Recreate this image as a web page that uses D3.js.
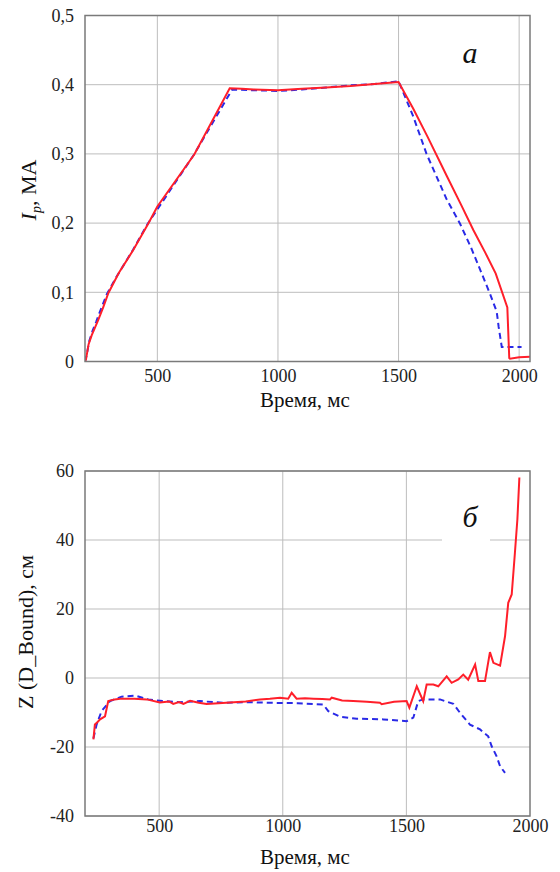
<!DOCTYPE html>
<html>
<head>
<meta charset="utf-8">
<script src="https://cdn.jsdelivr.net/npm/d3@7"></script>
<style>
  body { margin: 0; background: #fff; }
  svg { display: block; }
  svg text { font-family: "Liberation Serif", "Times New Roman", Times, "DejaVu Serif", serif !important; }
  .tick text { fill: #222; }
</style>
</head>
<body>
<svg id="chart" width="560" height="872"></svg>
<script>
// panel a: plasma current, MA
const ipRed = [[200,0],[204,0.003],[215,0.025],[228,0.038],[240,0.048],[255,0.06],[275,0.078],[297,0.099],
  [340,0.128],[400,0.161],[462,0.199],[500,0.224],[653,0.299],[800,0.395],[850,0.394],
  [900,0.393],[1000,0.392],[1100,0.394],[1200,0.396],[1300,0.398],[1400,0.401],[1500,0.404],[1560,0.366],
  [1620,0.325],[1700,0.268],[1760,0.226],[1810,0.19],[1860,0.157],[1903,0.127],[1951,0.078],[1959,0.005],
  [1962,0.004],[2000,0.006],[2045,0.007]];
const ipBlue = [[200,0],[206,0.008],[218,0.03],[232,0.045],[247,0.058],[262,0.072],[290,0.097],[330,0.122],
  [400,0.162],[460,0.199],[650,0.298],[810,0.393],[900,0.392],[1000,0.391],[1100,0.393],
  [1200,0.396],[1300,0.399],[1400,0.401],[1500,0.405],[1560,0.355],[1616,0.3],[1700,0.234],[1755,0.199],
  [1800,0.165],[1851,0.122],[1880,0.097],[1907,0.072],[1915,0.05],[1928,0.021],[1960,0.021],[2010,0.021]];

// panel b: Z (D_Bound), cm
const zRed = [[234,-17.8],[240,-13.5],[250,-12.8],[261,-12.0],[281,-11.1],[294,-6.7],[320,-6.2],[342,-6.0],
  [400,-6.0],[450,-6.2],[503,-7.1],[540,-6.8],[557,-7.5],[580,-7.0],[598,-7.5],[625,-6.6],[660,-7.2],[692,-7.5],
  [740,-7.3],[787,-7.1],[850,-6.8],[908,-6.2],[948,-6.0],[989,-5.7],[1022,-6.0],[1036,-4.3],[1056,-6.0],
  [1090,-5.9],[1124,-6.0],[1160,-6.1],[1191,-6.2],[1198,-5.7],[1240,-6.5],[1285,-6.7],[1340,-6.9],[1393,-7.2],
  [1400,-7.6],[1450,-6.9],[1501,-6.7],[1512,-8.6],[1542,-2.4],[1568,-6.7],[1582,-1.9],[1609,-1.9],[1629,-2.4],
  [1663,0.5],[1683,-1.4],[1710,-0.4],[1730,1.0],[1750,-0.5],[1778,3.9],[1791,-0.9],[1818,-0.9],[1838,7.5],
  [1852,4.4],[1879,3.6],[1899,12.1],[1912,21.8],[1926,24.2],[1939,36.3],[1949,46.0],[1957,58.1]];
const zBlue = [[234,-17.5],[247,-13.5],[267,-9.6],[301,-6.7],[348,-5.4],[402,-5.1],[456,-6.2],[514,-6.7],
  [584,-7.0],[665,-6.7],[759,-7.2],[854,-7.0],[962,-7.2],[1060,-7.3],[1164,-7.7],[1184,-9.6],[1231,-11.2],
  [1299,-11.8],[1407,-12.0],[1501,-12.5],[1528,-11.5],[1548,-6.7],[1568,-6.2],[1636,-6.2],[1690,-7.5],
  [1717,-10.1],[1757,-13.5],[1798,-14.9],[1831,-16.9],[1845,-19.8],[1865,-22.7],[1879,-25.6],[1899,-27.5]];

const timeTicks = [500, 1000, 1500, 2000];
const ipTicks = [0, 0.1, 0.2, 0.3, 0.4, 0.5];
const zTicks = [-40, -20, 0, 20, 40, 60];

const svg = d3.select("#chart");
const commaFmt = d => d === 0 ? "0" : d3.format(".1f")(d).replace(".", ",");

function drawPanel(opt){
  const x = d3.scaleLinear().domain(opt.xDomain).range([85, 530]);
  const y = d3.scaleLinear().domain(opt.yDomain).range([opt.bottom, opt.top]);
  const w = 445, h = opt.bottom - opt.top;
  const g = svg.append("g");

  // grid
  g.append("g").selectAll("line").data(opt.yTicks).join("line")
    .attr("x1", 85).attr("x2", 530)
    .attr("y1", d => y(d)).attr("y2", d => y(d))
    .attr("stroke", "#bdbdbd").attr("stroke-width", 1);
  g.append("g").selectAll("line").data(timeTicks.filter(d => x(d) < 529)).join("line")
    .attr("x1", d => x(d)).attr("x2", d => x(d))
    .attr("y1", opt.top).attr("y2", opt.bottom)
    .attr("stroke", "#bdbdbd").attr("stroke-width", 1);

  // tick labels
  const xAxis = d3.axisBottom(x).tickValues(timeTicks).tickSize(0).tickPadding(opt.xPad).tickFormat(d => String(d));
  g.append("g").attr("transform", `translate(0,${opt.bottom})`).call(xAxis)
    .call(a => a.select(".domain").remove())
    .selectAll("text").style("font-size", "18px");
  const yAxis = d3.axisLeft(y).tickValues(opt.yTicks).tickSize(0).tickPadding(11).tickFormat(opt.yFormat);
  g.append("g").attr("transform", "translate(85,0)").call(yAxis)
    .call(a => a.select(".domain").remove())
    .selectAll("text").style("font-size", "18px");

  // panel letter on a white patch
  if (opt.letterBox) {
    g.append("rect").attr("x", opt.letterBox[0]).attr("y", opt.letterBox[1])
      .attr("width", opt.letterBox[2]).attr("height", opt.letterBox[3]).attr("fill", "#fff");
  }
  g.append("text").attr("x", opt.letterPos[0]).attr("y", opt.letterPos[1])
    .attr("text-anchor", "middle").attr("font-style", "italic")
    .attr("font-size", 30).attr("fill", "#111").text(opt.letter);

  // series
  const clipId = "clip" + opt.letter.charCodeAt(0);
  g.append("clipPath").attr("id", clipId).append("rect")
    .attr("x", 85).attr("y", opt.top).attr("width", w).attr("height", h);
  const line = d3.line().x(d => x(d[0])).y(d => y(d[1]));
  g.append("path").datum(opt.blue).attr("clip-path", `url(#${clipId})`)
    .attr("d", line).attr("fill", "none")
    .attr("stroke", "#2a2ae6").attr("stroke-width", 2).attr("stroke-dasharray", "6,4");
  g.append("path").datum(opt.red).attr("clip-path", `url(#${clipId})`)
    .attr("d", line).attr("fill", "none")
    .attr("stroke", "#ff1f2a").attr("stroke-width", 2);

  // frame
  g.append("rect").attr("x", 85).attr("y", opt.top).attr("width", w).attr("height", h)
    .attr("fill", "none").attr("stroke", "#7a7a7a").attr("stroke-width", 1.5);

  // x title
  g.append("text").attr("x", 305).attr("y", opt.xTitleY)
    .attr("text-anchor", "middle").attr("font-size", 21)
    .attr("fill", "#111").text("Время, мс");

  return g;
}

drawPanel({
  xDomain: [200, 2045], yDomain: [0, 0.5], top: 15.5, bottom: 361.5,
  yTicks: ipTicks, yFormat: commaFmt, xPad: 8, xTitleY: 407,
  red: ipRed, blue: ipBlue, letter: "a", letterPos: [470, 63]
});

const yTitleA = svg.append("text")
  .attr("transform", "translate(36,190) rotate(-90)")
  .attr("text-anchor", "middle").attr("font-size", 22).attr("fill", "#111");
yTitleA.append("tspan").attr("font-style", "italic").text("I");
yTitleA.append("tspan").attr("font-style", "italic").attr("font-size", 14).attr("dy", 5).text("p");
yTitleA.append("tspan").attr("dy", -5).text(", MA");

drawPanel({
  xDomain: [200, 2000], yDomain: [-40, 60], top: 471, bottom: 816,
  yTicks: zTicks, yFormat: d => String(d), xPad: 3, xTitleY: 864,
  red: zRed, blue: zBlue, letter: "б", letterPos: [470, 527], letterBox: [442, 502, 48, 43]
});

svg.append("text")
  .attr("transform", "translate(33,632) rotate(-90)")
  .attr("text-anchor", "middle").attr("font-size", 22).attr("fill", "#111")
  .text("Z (D_Bound), см");
</script>
</body>
</html>
